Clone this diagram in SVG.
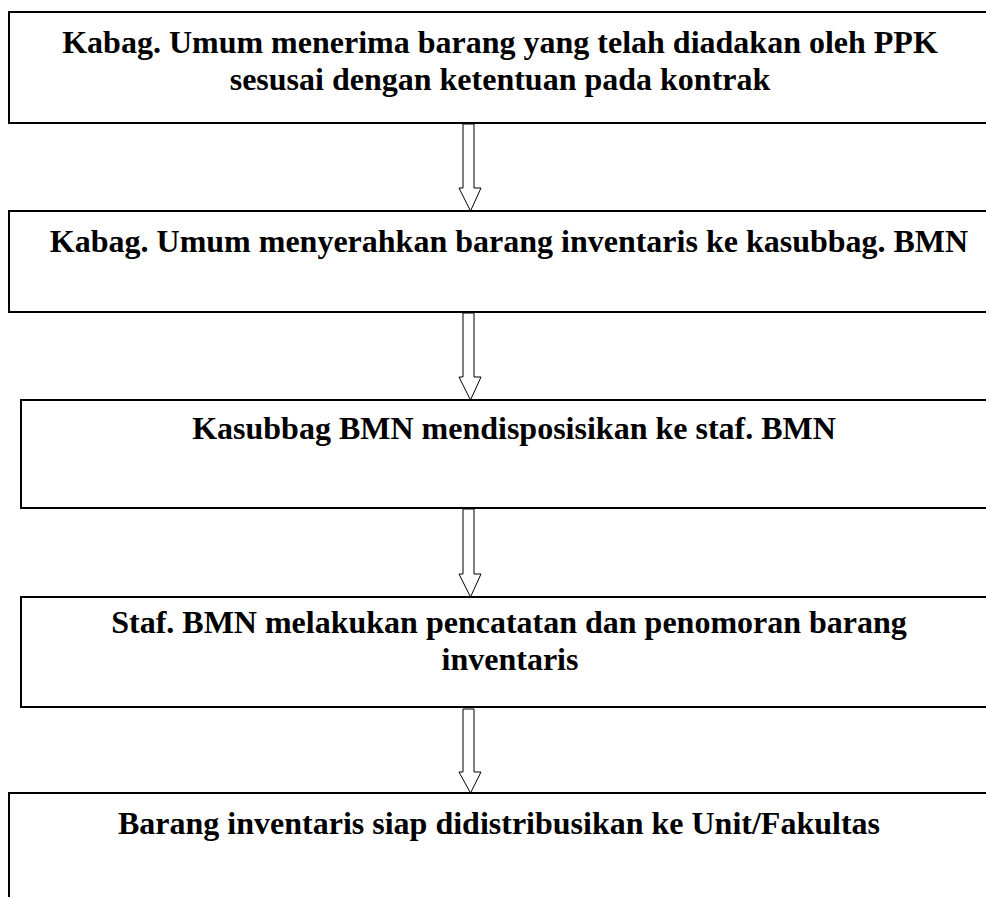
<svg xmlns="http://www.w3.org/2000/svg" width="986" height="897" viewBox="0 0 986 897">
<style>
.box{fill:#fff;stroke:#000;stroke-width:2}
.t{font-family:"Liberation Serif","Times New Roman",serif;font-weight:bold;font-size:32px;fill:#000;text-anchor:middle}
.arr{fill:#fff;stroke:#000;stroke-width:1}
</style>
<rect width="986" height="897" fill="#fff"/>
<g id="connectors">
<polygon class="arr" points="463,124 474,124 474,188 481,188 470.5,211 459,188 463,188"/>
<polygon class="arr" points="463,313 474,313 474,377 481,377 470.5,400 459,377 463,377"/>
<polygon class="arr" points="463,509 474,509 474,574 481,574 470.5,597 459,574 463,574"/>
<polygon class="arr" points="463,709 474,709 474,772 481,772 470.5,793 459,772 463,772"/>
</g>
<g id="n1">
<rect class="box" x="9" y="12" width="990" height="111"/>
<text class="t" x="500" y="53">Kabag. Umum menerima barang yang telah diadakan oleh PPK</text>
<text class="t" x="500" y="90">sesusai dengan ketentuan pada kontrak</text>
</g>
<g id="n2">
<rect class="box" x="9" y="211" width="990" height="101"/>
<text class="t" x="509" y="252">Kabag. Umum menyerahkan barang inventaris ke kasubbag. BMN</text>
</g>
<g id="n3">
<rect class="box" x="21" y="400" width="980" height="108"/>
<text class="t" x="514" y="439">Kasubbag BMN mendisposisikan ke staf. BMN</text>
</g>
<g id="n4">
<rect class="box" x="21" y="597" width="980" height="110"/>
<text class="t" x="509" y="633">Staf. BMN melakukan pencatatan dan penomoran barang</text>
<text class="t" x="510" y="670">inventaris</text>
</g>
<g id="n5">
<rect class="box" x="9" y="793" width="990" height="120"/>
<text class="t" x="499" y="834">Barang inventaris siap didistribusikan ke Unit/Fakultas</text>
</g>
</svg>
